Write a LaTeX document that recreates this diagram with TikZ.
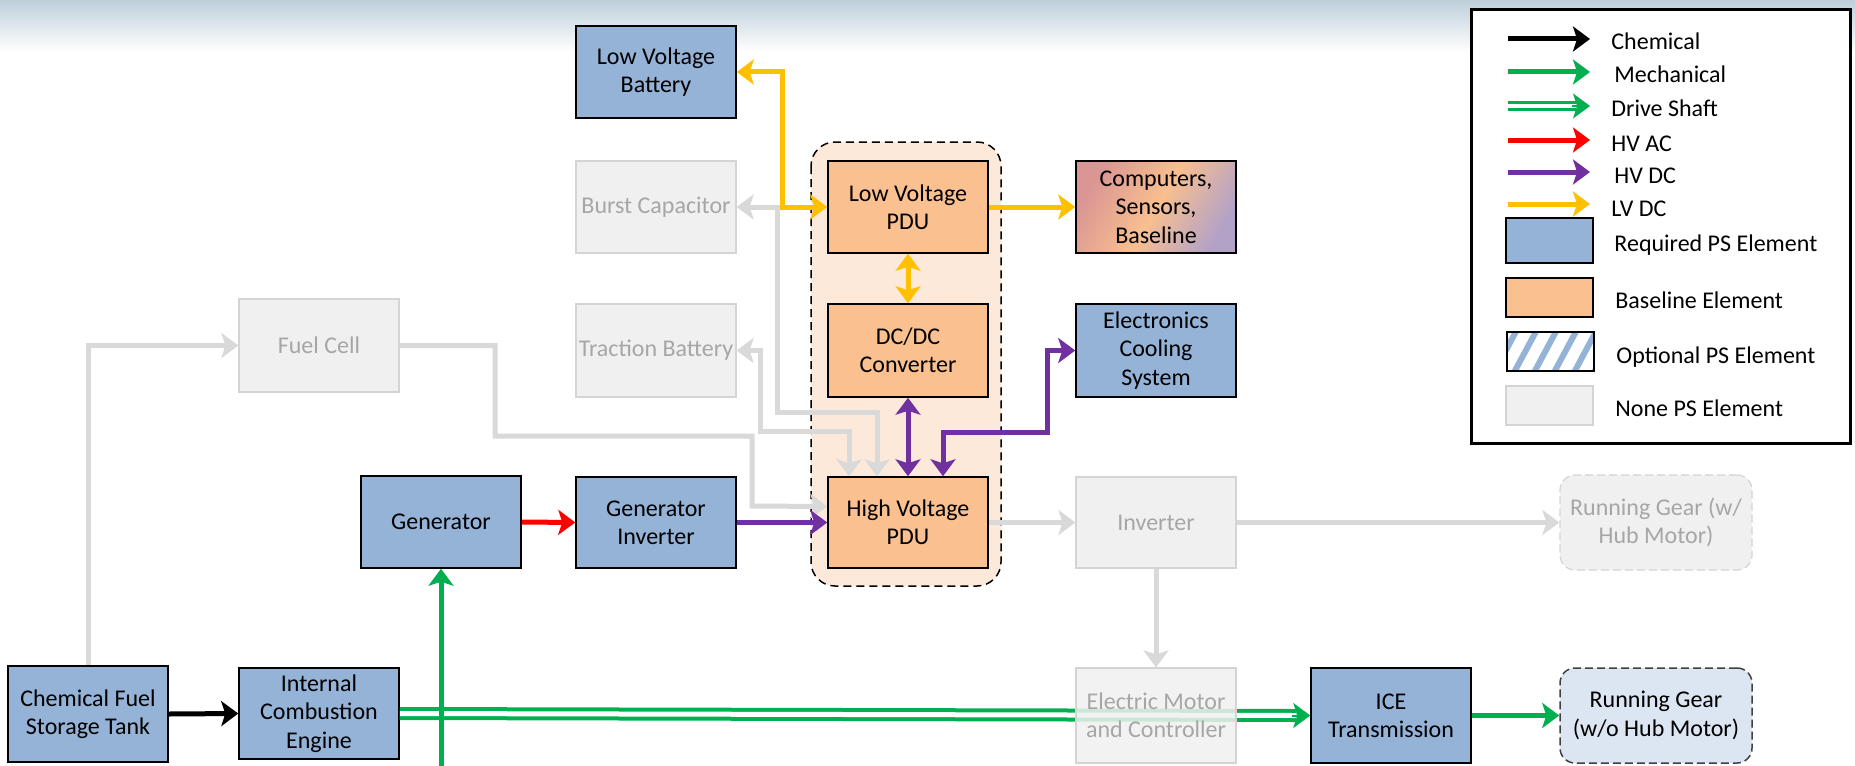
\documentclass[tikz,border=0pt]{standalone}
\usepackage{fontspec}
\setmainfont{Carlito}
\usetikzlibrary{arrows.meta,calc}
\definecolor{blu}{HTML}{95B3D7}
\definecolor{org}{HTML}{FAC090}
\definecolor{pdubg}{HTML}{FDE9D9}
\definecolor{gfill}{HTML}{F0F0F0}
\definecolor{gline}{HTML}{D9D9D9}
\definecolor{gtext}{HTML}{A6A6A6}
\definecolor{gborder}{HTML}{D4D4D4}
\definecolor{grn}{HTML}{00B050}
\definecolor{purp}{HTML}{7030A0}
\definecolor{yel}{HTML}{FFC000}
\definecolor{rgfill}{HTML}{DCE6F2}
\definecolor{topc}{HTML}{BDCFDA}
\definecolor{cmpA}{HTML}{D99694}
\definecolor{cmpB}{HTML}{F9BF8F}
\definecolor{cmpC}{HTML}{B3A2C7}
\begin{document}
\begin{tikzpicture}[x=0.5pt,y=-0.5pt,
  >={Stealth[length=8.5pt,width=12.5pt,inset=2pt]},
  box/.style={draw=black, line width=0.75pt, minimum width=80pt, minimum height=46pt,
    inner xsep=0pt, inner ysep=1pt, align=center, font=\fontsize{12}{14.2}\selectfont},
  req/.style={box, fill=blu},
  base/.style={box, fill=org},
  nonebox/.style={box, draw=gborder, fill=gfill, text=gtext, line width=0.6pt},
  wire/.style={line width=2.5pt},
  lgtext/.style={anchor=base west, inner sep=0pt, font=\fontsize{12}{14}\selectfont},
  lgbox/.style={line width=0.75pt, minimum width=43.5pt, minimum height=21pt, inner sep=0pt}
]
% canvas
\fill[white] (0,0) rectangle (1855,765);
\path[use as bounding box] (0,0) rectangle (1855,765);
\shade[top color=topc, bottom color=white] (0,0) rectangle (1855,52);

% PDU group container
\draw[dash pattern=on 4pt off 2.5pt, line width=0.75pt, fill=pdubg, rounded corners=12pt]
  (811,142) rectangle (1001,586);

% nodes
\node[req] (lvb) at (656,72) {Low Voltage\\Battery};
\node[nonebox] (burst) at (656,207) {Burst Capacitor};
\node[nonebox, minimum height=46.5pt] (trac) at (656,350.5) {Traction Battery};
\node[nonebox, minimum height=46.5pt] (fuel) at (319,345.5) {Fuel Cell};
\node[req] (gen) at (441,522) {Generator};
\node[req, minimum height=45.5pt] (ginv) at (656,522.5) {Generator\\Inverter};
\node[base] (lvpdu) at (908,207) {Low Voltage\\PDU};
\node[base, minimum height=46.5pt] (dcdc) at (908,350.5) {DC/DC\\Converter};
\node[base, minimum height=45.5pt] (hvpdu) at (908,522.5) {High Voltage\\PDU};
\node[box, left color=cmpA, right color=cmpC, middle color=cmpB, shading angle=60] (comp) at (1156,207) {Computers,\\Sensors,\\Baseline};
\node[req, minimum height=46.5pt] (cool) at (1156,350.5) {Electronics\\Cooling\\System};
\node[nonebox, minimum height=45.5pt] (inv) at (1156,522.5) {Inverter};
\node[nonebox, minimum width=96pt, minimum height=47.5pt, rounded corners=7.5pt,
  dash pattern=on 4pt off 2pt] (rgh) at (1656,522.5) {Running Gear (w/\\Hub Motor)};
\node[req, minimum height=48pt] (tank) at (88,714) {Chemical Fuel\\Storage Tank};
\node[req, minimum height=45.5pt] (ice) at (319,713.5) {Internal\\Combustion\\Engine};
\node[req, minimum height=47.5pt] (icet) at (1391,715.5) {ICE\\Transmission};
\node[box, fill=rgfill, draw=black!75, minimum width=96pt, minimum height=47.5pt,
  rounded corners=7.5pt, dash pattern=on 4pt off 2pt] (rg) at (1656,715.5) {Running Gear\\(w/o Hub Motor)};

% drive shaft (double line) ICE -> ICE transmission
\draw[grn, line width=2pt, double=white, double distance=2.5pt]
  (ice.east) -- ([xshift=-7pt]icet.west);
\draw[grn, line width=1pt, ->] ([xshift=-9pt]icet.west) -- (icet.west);

% electric motor (drawn over the shaft, slightly transparent)
\node[nonebox, minimum height=47.5pt, fill opacity=0.85, text opacity=1] (emc) at (1156,715.5)
  {Electric Motor\\and Controller};

% mechanical to generator
\coordinate (gbot) at (441,772);
\draw[wire, grn, ->] (gbot) -- (gen.south);
\draw[wire, grn, ->] (icet.east) -- (rg.west);

% chemical
\draw[wire, black, ->] (tank.east) -- (ice.west);

% grey (non PS) connections
\draw[wire, gline, ->] (tank.north) |- (fuel.west);
\draw[wire, gline, ->] (fuel.east) -| (495,436) -| (752,506) -- ([yshift=8pt]hvpdu.west);
\draw[wire, gline, <->] (burst.east) -- (777,207) |- (877,412) -- ([xshift=-15.5pt]hvpdu.north);
\draw[wire, gline, <->] (trac.east) -- (760,350.5) |- (849,431) -- ([xshift=-29.5pt]hvpdu.north);
\draw[wire, gline, ->] (hvpdu.east) -- (inv.west);
\draw[wire, gline, ->] (inv.east) -- (rgh.west);
\draw[wire, gline, ->] (inv.south) -- (emc.north);

% electrical
\draw[wire, red, ->] (gen.east) -- (ginv.west);
\draw[wire, purp, ->] (ginv.east) -- (hvpdu.west);
\draw[wire, purp, <->] (dcdc.south) -- (hvpdu.north);
\draw[wire, purp, <->] ([xshift=17.5pt]hvpdu.north) |- (1047,432) |- (cool.west);
\draw[wire, yel, <->] (lvb.east) -- (782,72) |- (lvpdu.west);
\draw[wire, yel, <->] (lvpdu.south) -- (dcdc.north);
\draw[wire, yel, ->] (lvpdu.east) -- (comp.west);

% legend
\draw[line width=1.5pt, fill=white] (1471,10) rectangle (1850,443);
\foreach \n/\y in {a/39,b/72,c/106,d/140,e/172,f/204}{
  \coordinate (ls\n) at (1508,\y);
  \coordinate (le\n) at (1590,\y);
}
\draw[wire, black, ->] (lsa) -- (lea);
\draw[wire, grn, ->] (lsb) -- (leb);
\draw[grn, line width=1.5pt, double=white, double distance=2pt] (lsc) -- ([xshift=-7pt]lec);
\draw[grn, line width=1pt, ->] ([xshift=-9pt]lec) -- (lec);
\draw[wire, red, ->] (lsd) -- (led);
\draw[wire, purp, ->] (lse) -- (lee);
\draw[wire, yel, ->] (lsf) -- (lef);

\node[lgtext] (tchem) at (1611,50) {Chemical};
\node[lgtext] (tmech) at (1614,83) {Mechanical};
\node[lgtext] (tdrive) at (1611,117) {Drive Shaft};
\node[lgtext] (thvac) at (1611,151) {HV AC};
\node[lgtext] (thvdc) at (1614,183) {HV DC};
\node[lgtext] (tlvdc) at (1611,216) {LV DC};

\node[lgbox, draw=black, fill=blu, minimum height=22.5pt] (lreq) at (1549.5,240.5) {};
\node[lgbox, draw=black, fill=org, minimum height=19.5pt] (lbase) at (1549.5,297.5) {};
\begin{scope}
  \clip (1507,332) rectangle (1594,371);
  \foreach \i in {1470,1490,...,1610}{
    \draw[blu, line width=3pt] (\i,380) -- ++(30,-56);
  }
\end{scope}
\node[lgbox, draw=black, minimum height=19.5pt] (lopt) at (1550.5,351.5) {};
\node[lgbox, draw=gborder, fill=gfill, minimum height=19.5pt] (lnone) at (1549.5,405.5) {};

\node[lgtext] (treq) at (1614,251) {Required PS Element};
\node[lgtext] (tbase) at (1615,308) {Baseline Element};
\node[lgtext] (topt) at (1616,363) {Optional PS Element};
\node[lgtext] (tnone) at (1615,416) {None PS Element};
\end{tikzpicture}
\end{document}
